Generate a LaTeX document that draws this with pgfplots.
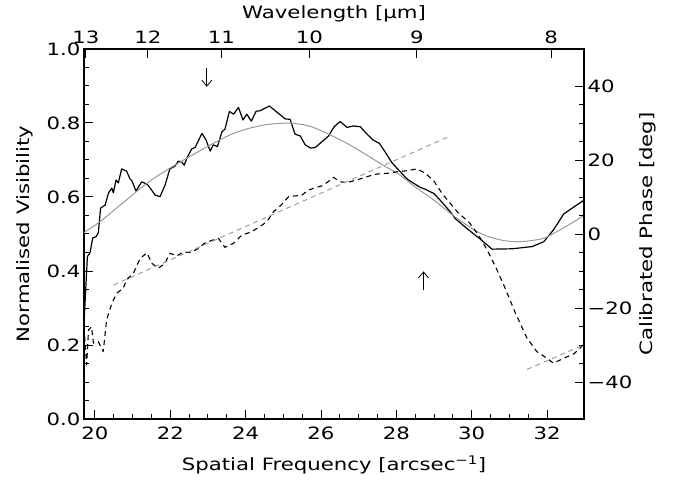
\documentclass[border=0pt]{standalone}
\usepackage{fontspec}
\setmainfont{DejaVu Sans}[FakeStretch=1.25]
\usepackage{pgfplots}
\pgfplotsset{compat=1.18}
\usetikzlibrary{arrows.meta}
\newcommand{\fs}{\fontsize{17}{20}\selectfont}
\definecolor{modelgray}{gray}{0.6}
\definecolor{fitgray}{gray}{0.62}
\pgfplotsset{
  base/.style={
    width=500pt, height=370pt, scale only axis,
    at={(0,0)}, anchor=south west,
    xmin=19.71, xmax=32.98,
    enlargelimits=false,
    tick align=inside,
    major tick length=9pt, minor tick length=5pt,
    every tick/.style={black, line width=1pt},
    axis line style={line width=1.2pt},
    tick label style={font=\fs},
    clip=true,
  }
}
\begin{document}
\begin{tikzpicture}
\useasboundingbox (-84pt,-63pt) rectangle (596pt,419pt);
% main axis: visibility
\begin{axis}[base,
  ymin=0, ymax=1,
  xtick={20,22,24,26,28,30,32},
  xticklabels={20,22,24,26,28,30,32},
  minor x tick num=3,
  ytick={0,0.2,0.4,0.6,0.8,1.0},
  yticklabels={0.0,0.2,0.4,0.6,0.8,1.0},
  minor y tick num=3,
  xtick pos=bottom, ytick pos=left,
  xticklabel style={yshift=-4pt},
  every axis x label/.style={at={(axis description cs:0.5,-0.124)},anchor=center,font=\fs},
  every axis y label/.style={at={(axis description cs:-0.118,0.5)},anchor=center,rotate=90,font=\fs},
  xlabel={Spatial Frequency [arcsec\textsuperscript{−1}]},
  ylabel={Normalised Visibility},
]
\addplot[black, line width=1.2pt, line join=round] coordinates {
(19.71,0.259)(19.80,0.439)(19.87,0.449)(19.94,0.489)(20.03,0.493)(20.09,0.503)
(20.15,0.570)(20.27,0.578)(20.36,0.611)(20.45,0.624)(20.49,0.611)(20.56,0.646)
(20.62,0.638)(20.71,0.676)(20.84,0.670)(20.93,0.649)(20.98,0.644)(21.09,0.616)
(21.24,0.641)(21.38,0.635)(21.46,0.625)(21.60,0.605)(21.73,0.601)(21.86,0.632)
(21.99,0.676)(22.13,0.684)(22.21,0.697)(22.30,0.695)(22.37,0.686)(22.44,0.705)
(22.57,0.730)(22.66,0.734)(22.84,0.772)(22.95,0.754)(23.06,0.724)(23.14,0.741)
(23.25,0.736)(23.37,0.776)(23.45,0.783)(23.57,0.831)(23.68,0.824)(23.81,0.842)
(23.93,0.808)(24.03,0.824)(24.15,0.805)(24.28,0.832)(24.38,0.833)(24.63,0.846)
(24.87,0.826)(25.05,0.811)(25.18,0.810)(25.31,0.770)(25.45,0.765)(25.58,0.741)
(25.73,0.732)(25.85,0.734)(26.02,0.749)(26.20,0.765)(26.35,0.790)(26.51,0.804)
(26.69,0.788)(26.86,0.792)(27.04,0.790)(27.22,0.770)(27.38,0.754)(27.55,0.745)
(27.70,0.722)(27.88,0.693)(28.06,0.673)(28.24,0.653)(28.32,0.646)(28.46,0.637)
(28.63,0.626)(28.77,0.621)(28.94,0.612)(28.99,0.610)(29.21,0.586)(29.43,0.560)
(29.56,0.542)(29.87,0.515)(30.23,0.486)(30.54,0.459)(31.07,0.460)(31.60,0.466)
(31.91,0.479)(32.17,0.511)(32.44,0.554)(32.71,0.573)(32.96,0.590)
};
\addplot[modelgray, line width=1pt, smooth] coordinates {
(19.71,0.504)(20.13,0.533)(20.67,0.578)(21.38,0.637)(21.91,0.673)(22.44,0.705)
(23.14,0.745)(23.59,0.768)(24.03,0.784)(24.52,0.795)(24.92,0.799)(25.27,0.799)
(25.80,0.788)(26.69,0.745)(27.57,0.691)(28.10,0.659)(28.46,0.630)(28.99,0.592)
(29.56,0.546)(30.23,0.502)(30.76,0.484)(31.24,0.479)(31.82,0.486)(32.09,0.497)
(32.53,0.522)(32.96,0.549)
};
\draw[line width=0.8pt, -{Straight Barb[length=6pt,width=10pt]}] (axis cs:22.97,0.948) -- (axis cs:22.97,0.898);
\draw[line width=0.8pt, -{Straight Barb[length=6pt,width=10pt]}] (axis cs:28.72,0.349) -- (axis cs:28.72,0.399);
\end{axis}
% phase axis
\begin{axis}[base,
  ymin=-50, ymax=50,
  axis x line=none, axis y line*=right,
  ytick={-40,-20,0,20,40},
  yticklabels={−40,−20,0,20,40},
  minor y tick num=3,
  every axis y label/.style={at={(axis description cs:1.128,0.5)},anchor=center,rotate=90,font=\fs},
  ylabel={Calibrated Phase [deg]},
]
\addplot[black, line width=1.1pt, dash pattern=on 5pt off 4pt, line join=round] coordinates {
(19.71,-25.1)(19.78,-35.4)(19.83,-25.9)(19.91,-25.1)(19.96,-29.5)(20.09,-29.1)
(20.22,-31.8)(20.31,-23.2)(20.45,-18.7)(20.58,-16.0)(20.75,-14.7)(20.84,-12.4)
(21.02,-10.6)(21.20,-6.6)(21.38,-5.1)(21.51,-7.9)(21.68,-9.3)(21.86,-7.9)
(21.99,-5.2)(22.17,-5.9)(22.35,-4.9)(22.53,-5.0)(22.75,-3.9)(22.92,-2.4)
(23.14,-1.6)(23.28,-1.2)(23.45,-3.6)(23.68,-2.5)(23.90,-0.3)(24.16,0.6)
(24.38,2.0)(24.56,3.3)(24.74,6.0)(24.96,8.0)(25.14,10.1)(25.31,10.3)
(25.49,10.5)(25.67,11.9)(25.85,12.5)(26.02,13.0)(26.16,13.9)(26.33,15.3)
(26.51,14.1)(26.69,13.9)(26.95,14.6)(27.22,15.5)(27.48,16.2)(27.75,16.4)
(28.02,16.8)(28.28,17.1)(28.55,17.6)(28.77,16.4)(28.99,14.4)(29.21,11.0)
(29.43,8.3)(29.65,5.6)(29.92,3.3)(30.18,-0.3)(30.41,-4.3)(30.63,-8.8)
(30.89,-14.7)(31.16,-21.4)(31.47,-28.2)(31.73,-31.8)(32.00,-33.6)(32.17,-34.9)
(32.44,-33.6)(32.71,-32.4)(32.96,-30.0)
};
\addplot[fitgray, line width=1pt, dash pattern=on 5pt off 4pt] coordinates {(20.49,-13.8)(29.43,26.5)};
\addplot[fitgray, line width=1pt, dash pattern=on 5pt off 4pt] coordinates {(31.47,-36.6)(32.96,-30.0)};
\end{axis}
% wavelength axis on top
\begin{axis}[base,
  ymin=0, ymax=1,
  axis x line*=top, axis y line=none,
  xtick={19.762,21.408,23.355,25.69,28.544,32.11},
  xticklabels={13,12,11,10,9,8},
  minor x tick num=0,
  xticklabel style={yshift=2pt},
  every axis x label/.style={at={(axis description cs:0.5,1.095)},anchor=center,font=\fs},
  xlabel={Wavelength [μm]},
]
\end{axis}
\end{tikzpicture}
\end{document}
